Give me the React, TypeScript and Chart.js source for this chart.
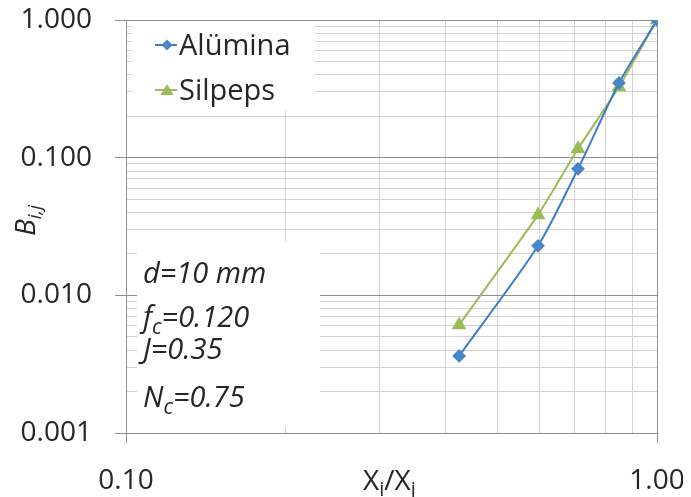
import React, { useEffect, useRef } from 'react';
import { Chart, registerables } from 'chart.js';

Chart.register(...registerables);

// ---------- data ----------
const xValues = [0.424, 0.597, 0.71, 0.848, 1.0];
const aluminaValues = [0.00363, 0.0229, 0.083, 0.349, 1.0];
const silpepsValues = [0.0061, 0.0384, 0.116, 0.326, 1.0];
const seriesNames = ['Alümina', 'Silpeps'];

const xTicks = [0.1, 0.2, 0.3, 0.4, 0.5, 0.6, 0.7, 0.8, 0.9, 1.0];
const yTicks = [
  0.001, 0.002, 0.003, 0.004, 0.005, 0.006, 0.007, 0.008, 0.009,
  0.01, 0.02, 0.03, 0.04, 0.05, 0.06, 0.07, 0.08, 0.09,
  0.1, 0.2, 0.3, 0.4, 0.5, 0.6, 0.7, 0.8, 0.9, 1.0,
];
const xTickLabels: Record<string, string> = { '0.1': '0.10', '1': '1.00' };
const yTickLabels: Record<string, string> = {
  '0.001': '0.001', '0.01': '0.010', '0.1': '0.100', '1': '1.000',
};

type Part = { t: string; sub?: boolean };
const annotationLines: Part[][] = [
  [{ t: 'd=10 mm' }],
  [{ t: 'f' }, { t: 'c', sub: true }, { t: '=0.120' }],
  [{ t: 'J=0.35' }],
  [{ t: 'N' }, { t: 'c', sub: true }, { t: '=0.75' }],
];
const xTitle: Part[] = [{ t: 'X' }, { t: 'i', sub: true }, { t: '/X' }, { t: 'j', sub: true }];
const yTitle: Part[] = [{ t: 'B' }, { t: 'i,j', sub: true }];

// ---------- style ----------
const FONT = '"Open Sans", sans-serif';
const TEXT = '#262626';
const BLUE_LINE = '#3b7dc6';
const BLUE_MARK = '#4a85c8';
const GREEN = '#9bbb59';
const MAJOR = '#8f8f8f';
const MINOR = '#d2d2d2';

const CANVAS_W = 683;
const CANVAS_H = 489;

const isMajor = (v: number) => {
  const l = Math.log10(v);
  return Math.abs(l - Math.round(l)) < 1e-9;
};

function drawRich(
  ctx: CanvasRenderingContext2D,
  x: number,
  y: number,
  parts: Part[],
  italic: boolean,
  size = 28,
  subSize = 20,
  subDrop = 6
) {
  let cx = x;
  ctx.textBaseline = 'alphabetic';
  ctx.textAlign = 'left';
  for (const p of parts) {
    const s = p.sub ? subSize : size;
    ctx.font = `${italic ? 'italic ' : ''}${s}px ${FONT}`;
    ctx.fillText(p.t, cx, p.sub ? y + subDrop : y);
    cx += ctx.measureText(p.t).width;
  }
}

const overlayPlugin = {
  id: 'overlay',
  beforeDatasetsDraw(chart: any) {
    const ctx: CanvasRenderingContext2D = chart.ctx;
    ctx.save();
    ctx.fillStyle = '#ffffff';
    // legend box
    ctx.fillRect(124, 13, 183, 89);
    // annotation box
    ctx.fillRect(129, 234, 183, 185);
    ctx.restore();
  },
  afterDraw(chart: any) {
    const ctx: CanvasRenderingContext2D = chart.ctx;
    ctx.save();
    ctx.fillStyle = TEXT;

    // legend
    const legendRows = [
      { name: seriesNames[0], y: 37, color: BLUE_LINE, mark: BLUE_MARK, shape: 'diamond' },
      { name: seriesNames[1], y: 82, color: GREEN, mark: GREEN, shape: 'triangle' },
    ];
    for (const r of legendRows) {
      ctx.strokeStyle = r.color;
      ctx.lineWidth = 2;
      ctx.beginPath();
      ctx.moveTo(147, r.y);
      ctx.lineTo(169, r.y);
      ctx.stroke();
      ctx.fillStyle = r.mark;
      ctx.beginPath();
      if (r.shape === 'diamond') {
        ctx.moveTo(159, r.y - 5.5);
        ctx.lineTo(164.5, r.y);
        ctx.lineTo(159, r.y + 5.5);
        ctx.lineTo(153.5, r.y);
      } else {
        ctx.moveTo(159, r.y - 6);
        ctx.lineTo(165.5, r.y + 5);
        ctx.lineTo(152.5, r.y + 5);
      }
      ctx.closePath();
      ctx.fill();
      ctx.fillStyle = TEXT;
      ctx.font = `29px ${FONT}`;
      ctx.textAlign = 'left';
      ctx.textBaseline = 'alphabetic';
      ctx.fillText(r.name, 171, r.y + 10);
    }

    // annotation
    const baselines = [275, 319, 351, 399];
    annotationLines.forEach((line, i) => {
      drawRich(ctx, 135, baselines[i], line, true, 29, 21, 7);
    });

    // x title
    drawRich(ctx, 355, 482, xTitle, false, 28, 20, 6);

    // y title (rotated)
    ctx.save();
    ctx.translate(27, 228);
    ctx.rotate(-Math.PI / 2);
    drawRich(ctx, 0, 0, yTitle, true, 28, 19, 6);
    ctx.restore();

    ctx.restore();
  },
};

export default function App() {
  const canvasRef = useRef<HTMLCanvasElement | null>(null);

  useEffect(() => {
    if (!canvasRef.current) return;
    const chart = new Chart(canvasRef.current, {
      type: 'line',
      data: {
        datasets: [
          {
            label: seriesNames[0],
            data: xValues.map((x, i) => ({ x, y: aluminaValues[i] })),
            borderColor: BLUE_LINE,
            backgroundColor: BLUE_MARK,
            pointBackgroundColor: BLUE_MARK,
            pointBorderColor: BLUE_MARK,
            pointStyle: 'rectRot',
            pointRadius: 5.5,
            borderWidth: 2,
            tension: 0.25,
          },
          {
            label: seriesNames[1],
            data: xValues.map((x, i) => ({ x, y: silpepsValues[i] })),
            borderColor: GREEN,
            backgroundColor: GREEN,
            pointBackgroundColor: GREEN,
            pointBorderColor: GREEN,
            pointStyle: 'triangle',
            pointRadius: 6.5,
            borderWidth: 2,
            tension: 0.15,
          },
        ],
      },
      options: {
        animation: false,
        responsive: true,
        maintainAspectRatio: false,
        layout: { padding: { top: 12, right: 34, left: 0, bottom: 0 } },
        plugins: {
          legend: { display: false },
          tooltip: { enabled: false },
        },
        scales: {
          x: {
            type: 'logarithmic',
            min: 0.1,
            max: 1.0,
            afterBuildTicks: (scale: any) => {
              scale.ticks = xTicks.map((v) => ({ value: v }));
            },
            afterFit: (scale: any) => {
              scale.height = CANVAS_H - 425;
              scale.paddingLeft = 0;
              scale.paddingRight = 0;
            },
            ticks: {
              autoSkip: false,
              maxRotation: 0,
              minRotation: 0,
              padding: 21,
              color: TEXT,
              font: { family: FONT, size: 28 },
              callback: (v: any) => xTickLabels[String(v)] ?? '',
            },
            grid: {
              color: (c: any) => (c.tick && isMajor(c.tick.value) ? MAJOR : MINOR),
              tickColor: (c: any) => (c.tick && isMajor(c.tick.value) ? MAJOR : 'rgba(0,0,0,0)'),
              tickLength: 10,
              lineWidth: 1,
            },
            border: { color: MAJOR, width: 1 },
          },
          y: {
            type: 'logarithmic',
            min: 0.001,
            max: 1.0,
            afterBuildTicks: (scale: any) => {
              scale.ticks = yTicks.map((v) => ({ value: v }));
            },
            afterFit: (scale: any) => {
              scale.width = 118;
              scale.paddingTop = 0;
              scale.paddingBottom = 0;
            },
            ticks: {
              autoSkip: false,
              padding: 23,
              color: TEXT,
              font: { family: FONT, size: 28 },
              callback: (v: any) => yTickLabels[String(v)] ?? '',
            },
            grid: {
              color: (c: any) => (c.tick && isMajor(c.tick.value) ? MAJOR : MINOR),
              tickColor: (c: any) => (c.tick && isMajor(c.tick.value) ? MAJOR : 'rgba(0,0,0,0)'),
              tickLength: 11,
              lineWidth: 1,
            },
            border: { color: MAJOR, width: 1 },
          },
        },
      },
      plugins: [overlayPlugin],
    });
    return () => chart.destroy();
  }, []);

  return (
    <div style={{ position: 'relative', width: CANVAS_W, height: CANVAS_H }}>
      <canvas ref={canvasRef} />
    </div>
  );
}
